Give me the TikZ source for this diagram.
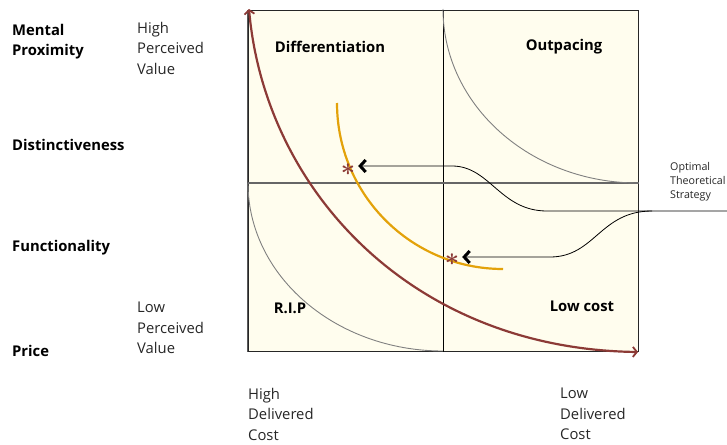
\documentclass[tikz,border=0pt]{standalone}
\usepackage{amsmath}
\usepackage{fontspec}
\setmainfont{Open Sans}
\usetikzlibrary{arrows.meta}
\usetikzlibrary{positioning}
\definecolor{cream}{HTML}{FFFDEE}
\definecolor{rust}{HTML}{8C3A36}
\definecolor{amber}{HTML}{E3A20A}
\tikzset{frame/.style={draw=black!85, line width=1pt, fill=cream, inner sep=0pt}}
\tikzset{quad/.style={font=\bfseries\fontsize{14.8}{18}\selectfont, inner sep=0pt}}
\tikzset{factor/.style={font=\bfseries\fontsize{14.8}{20}\selectfont, align=left, anchor=west, inner sep=0pt}}
\tikzset{level/.style={font=\fontsize{14.8}{20.5}\selectfont, align=left, anchor=west, inner sep=0pt, text=black!85}}
\tikzset{limit/.style={draw=black!50, line width=0.9pt}}
\tikzset{starmark/.style={text=rust, font=\fontsize{28}{28}\selectfont, inner sep=0pt, outer sep=3pt}}
\tikzset{connect/.style={draw, line width=0.8pt, -{Straight Barb[length=5.5pt, width=12pt, line width=3pt]}}}

\begin{document}
\begin{tikzpicture}[x=1pt,y=-1pt]
\useasboundingbox (0,0) rectangle (727,444);

%strategy plane
\node[frame, minimum width=390pt, minimum height=340pt] (plane) at (443,181) {};
\coordinate (mid) at (443,183);
\draw[black, line width=0.8pt] (plane.north) -- (plane.south);
\draw[black!60, line width=1.5pt] (plane.west |- mid) -- (plane.east |- mid);
\draw[black!65, line width=1.5pt] (plane.north west) -- (plane.south west);

%limit curves in the corners
\draw[limit] (443,9) arc[start angle=180, end angle=90, x radius=195, y radius=174];
\draw[limit] (248,183) arc[start angle=180, end angle=90, x radius=195, y radius=168];

%quadrants
\node[quad] (diff) at (330,47) {Differentiation};
\node[quad] (outp) at (564,47) {Outpacing};
\node[quad] (rip) at (290,308) {R.I.P};
\node[quad] (lowc) at (582,306) {Low cost};

%value / cost trade-off
\draw[rust, line width=2.2pt, {Straight Barb[length=4pt, width=10pt, line width=1.8pt]}-{Straight Barb[length=4pt, width=10pt, line width=1.8pt]}]
  (249,9) .. controls (265,190) and (412,349) .. (638,352);

%optimal curve
\draw[amber, line width=2.2pt] (337,103) arc[start angle=180, end angle=90, radius=166];
\node[starmark] (s1) at (348,170) {$\boldsymbol{\ast}$};
\node[starmark] (s2) at (452,260) {$\boldsymbol{\ast}$};

%optimal strategy and its pointers
\node[font=\fontsize{10.7}{14}\selectfont, align=left, anchor=north west, inner sep=0pt, text=black!85] (opt) at (670,162) {Optimal\\Theoretical\\Strategy};
\coordinate (feed) at (727,211);
\coordinate (hub) at (652,211);
\coordinate (a1) at (452,166);
\coordinate (a2) at (550,257);
\draw[connect] (feed) -- (547,211) .. controls (500,211) and (490,166) .. (a1) -- (s1.east |- a1);
\draw[connect] (hub) .. controls (600,211) and (595,257) .. (a2) -- (s2.east |- a2);

%value factors
\node[factor] (ment) at (12,42) {Mental\\Proximity};
\node[factor] (dist) at (12,145) {Distinctiveness};
\node[factor] (func) at (12,248) {Functionality};
\node[factor] (price) at (12,351) {Price};

%axis ends
\node[level] (hpv) at (137,48) {High\\Perceived\\Value};
\node[level] (lpv) at (137,328) {Low\\Perceived\\Value};
\node[level] (hdc) at (248,414) {High\\Delivered\\Cost};
\node[level] (ldc) at (560,414) {Low\\Delivered\\Cost};

\end{tikzpicture}
\end{document}
